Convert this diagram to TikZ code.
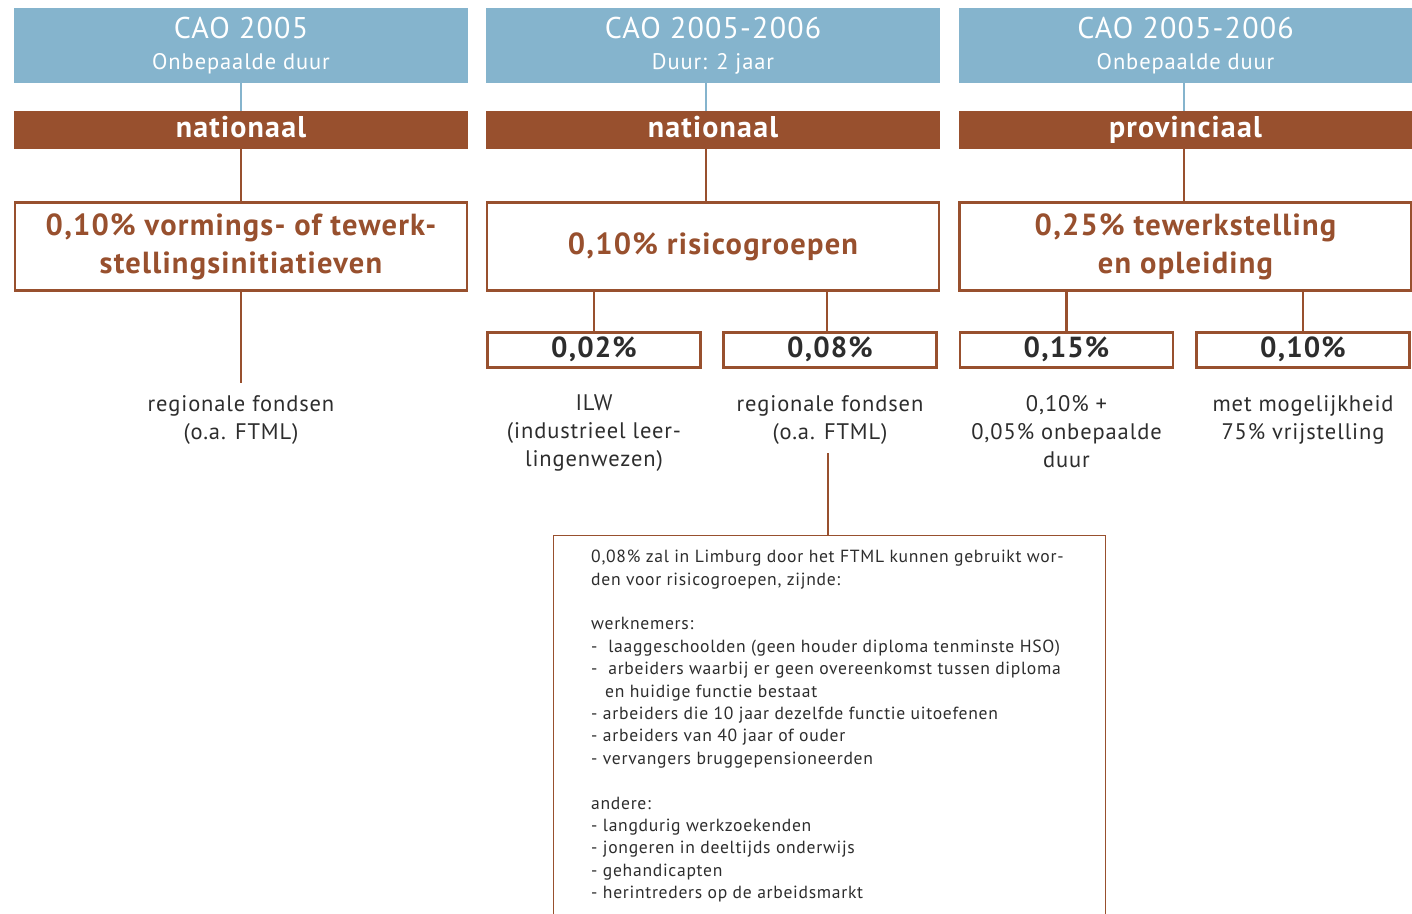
\documentclass[tikz,border=0pt]{standalone}
\usepackage{fontspec}
\setmainfont{PT Sans}[LetterSpace=4]
\usetikzlibrary{positioning}

\definecolor{caoblue}{RGB}{133,180,205}
\definecolor{caobrown}{RGB}{152,80,46}
\definecolor{caogray}{RGB}{45,45,45}

\begin{document}
\begin{tikzpicture}[x=1pt,y=-1pt,
    hdr/.style={fill=caoblue,text=white,minimum width=454pt,minimum height=75pt,inner sep=0pt,align=center},
    lvl/.style={fill=caobrown,text=white,minimum width=454pt,minimum height=38pt,inner sep=0pt,
        text height=22pt,text depth=7pt,font=\fontsize{30}{32}\selectfont\bfseries},
    mainbox/.style={draw=caobrown,line width=2.5pt,text=caobrown,minimum width=452pt,minimum height=88pt,
        inner sep=0pt,align=center,font=\fontsize{30.5}{38}\selectfont\bfseries},
    pctbox/.style={draw=caobrown,line width=2.5pt,text=caogray,minimum width=213pt,minimum height=35pt,
        inner sep=0pt,text height=21pt,text depth=6pt,font=\fontsize{29}{32}\selectfont\bfseries},
    lbl/.style={text=caogray,align=center,anchor=north,inner sep=0pt,font=\fontsize{22.5}{28}\selectfont},
    bline/.style={draw=caobrown,line width=2.5pt},
    cline/.style={draw=caoblue,line width=2.5pt}]
    \useasboundingbox (0,0) rectangle (1412,913);

    % kopjes
    \node[hdr] (cao1) at (241,45.5) {{\fontsize{30}{34}\selectfont CAO 2005}\\[14pt]{\fontsize{22.5}{24}\selectfont Onbepaalde duur}};
    \node[hdr] (cao2) at (713,45.5) {{\fontsize{30}{34}\selectfont CAO 2005-2006}\\[14pt]{\fontsize{22.5}{24}\selectfont Duur: 2 jaar}};
    \node[hdr] (cao3) at (1185.5,45.5) {{\fontsize{30}{34}\selectfont CAO 2005-2006}\\[14pt]{\fontsize{22.5}{24}\selectfont Onbepaalde duur}};

    \node[lvl] (lvl1) at (241,130) {nationaal};
    \node[lvl] (lvl2) at (713,130) {nationaal};
    \node[lvl] (lvl3) at (1185.5,130) {provinciaal};

    \node[mainbox] (main1) at (241,246.5) {0,10\% vormings- of tewerk-\\stellingsinitiatieven};
    \node[mainbox] (main2) at (713,246.5) {0,10\% risicogroepen};
    \node[mainbox] (main3) at (1185.5,246.5) {0,25\% tewerkstelling\\en opleiding};

    \node[pctbox] (p1) at (594,350) {0,02\%};
    \node[pctbox] (p2) at (830,350) {0,08\%};
    \node[pctbox] (p3) at (1066.5,350) {0,15\%};
    \node[pctbox] (p4) at (1303,350) {0,10\%};

    \node[lbl] (fonds1) at (241,395) {regionale fondsen\\(o.a. FTML)};
    \node[lbl] (ilw) at (594,395) {ILW\\(industrieel leer-\\lingenwezen)};
    \node[lbl] (fonds2) at (830,395) {regionale fondsen\\(o.a. FTML)};
    \node[lbl] (onbep) at (1066.5,395) {0,10\% +\\0,05\% onbepaalde\\duur};
    \node[lbl] (vrijst) at (1303,395) {met mogelijkheid\\75\% vrijstelling};

    % verbindingen
    \foreach \i/\dx in {1/0,2/-7,3/-1.5} {
        \draw[cline] ([xshift=\dx pt]cao\i.south) -- ([xshift=\dx pt]lvl\i.north);
        \draw[bline] ([xshift=\dx pt]lvl\i.south) -- ([xshift=\dx pt]main\i.north);
    }
    \coordinate (end1) at (241,383);
    \draw[bline] (main1.south) -- (end1);
    \draw[bline] (p1.north |- main2.south) -- (p1.north);
    \draw[bline] ([xshift=-3pt]p2.north |- main2.south) -- ([xshift=-3pt]p2.north);
    \draw[bline] (p3.north |- main3.south) -- (p3.north);
    \draw[bline] (p4.north |- main3.south) -- (p4.north);

    % toelichting
    \node[draw=caobrown,line width=1.4pt,anchor=north west,minimum width=552pt,minimum height=420pt,inner sep=0pt]
        (note) at (553,535) {};
    \coordinate (ftml) at (828,453);
    \draw[bline] (ftml) -- (ftml |- note.north);
    \node[anchor=north west,align=left,inner sep=0pt,text=caogray,font=\fontsize{17.6}{22.4}\selectfont]
        (notetxt) at (591,550) {0,08\% zal in Limburg door het FTML kunnen gebruikt wor-\\
        den voor risicogroepen, zijnde:\\[22.4pt]
        werknemers:\\
        -\ \ laaggeschoolden (geen houder diploma tenminste HSO)\\
        -\ \ arbeiders waarbij er geen overeenkomst tussen diploma\\
        \hspace*{14pt}en huidige functie bestaat\\
        - arbeiders die 10 jaar dezelfde functie uitoefenen\\
        - arbeiders van 40 jaar of ouder\\
        - vervangers bruggepensioneerden\\[22.4pt]
        andere:\\
        - langdurig werkzoekenden\\
        - jongeren in deeltijds onderwijs\\
        - gehandicapten\\
        - herintreders op de arbeidsmarkt};
\end{tikzpicture}
\end{document}
